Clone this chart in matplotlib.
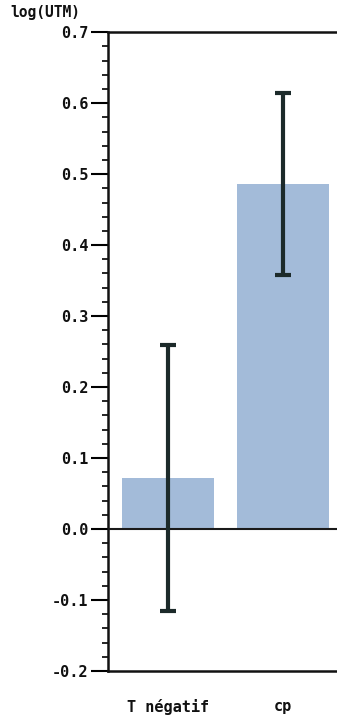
import matplotlib
matplotlib.use("Agg")
import matplotlib.pyplot as plt
from matplotlib.ticker import MultipleLocator

categories = ["T négatif", "cp"]
means = [0.072, 0.486]
errors = [0.187, 0.128]
y_ticks = [-0.2, -0.1, 0.0, 0.1, 0.2, 0.3, 0.4, 0.5, 0.6, 0.7]
y_label = "log(UTM)"

fig = plt.figure(figsize=(3.37, 7.16), dpi=100)
ax = fig.add_axes([0.320, 0.063, 0.68, 0.892])

x = list(range(len(categories)))
ax.bar(x, means, width=0.8, color="#a3bbd9", edgecolor="none", zorder=2)
ax.errorbar(x, means, yerr=errors, fmt="none", ecolor="#1c2a2a",
            elinewidth=3, capsize=6, capthick=3, zorder=4)
ax.axhline(0, color="#1a1a1a", lw=1.5, zorder=3)

ax.set_xlim(-0.52, 1.465)
ax.set_ylim(-0.2, 0.7)
ax.set_yticks(y_ticks)
ax.set_yticklabels([f"{v:.1f}" for v in y_ticks])
ax.yaxis.set_minor_locator(MultipleLocator(0.02))
ax.tick_params(axis="y", which="major", direction="out", length=12, width=1.5, pad=2)
ax.tick_params(axis="y", which="minor", direction="out", length=4, width=1.2)
ax.set_xticks(x)
ax.set_xticklabels(categories)
ax.tick_params(axis="x", length=0, pad=20)

for lbl in ax.get_yticklabels() + ax.get_xticklabels():
    lbl.set_fontfamily("DejaVu Sans Mono")
    lbl.set_fontweight("bold")
    lbl.set_fontsize(11)
    lbl.set_color("#111111")

for s in ["left", "bottom", "top"]:
    ax.spines[s].set_linewidth(1.8)
    ax.spines[s].set_color("#111111")
ax.spines["right"].set_visible(False)

fig.text(0.03, 0.983, y_label, fontfamily="DejaVu Sans Mono", fontweight="bold",
         fontsize=10.5, ha="left", va="center", color="#111111")

fig.savefig("out.png", dpi=100)
